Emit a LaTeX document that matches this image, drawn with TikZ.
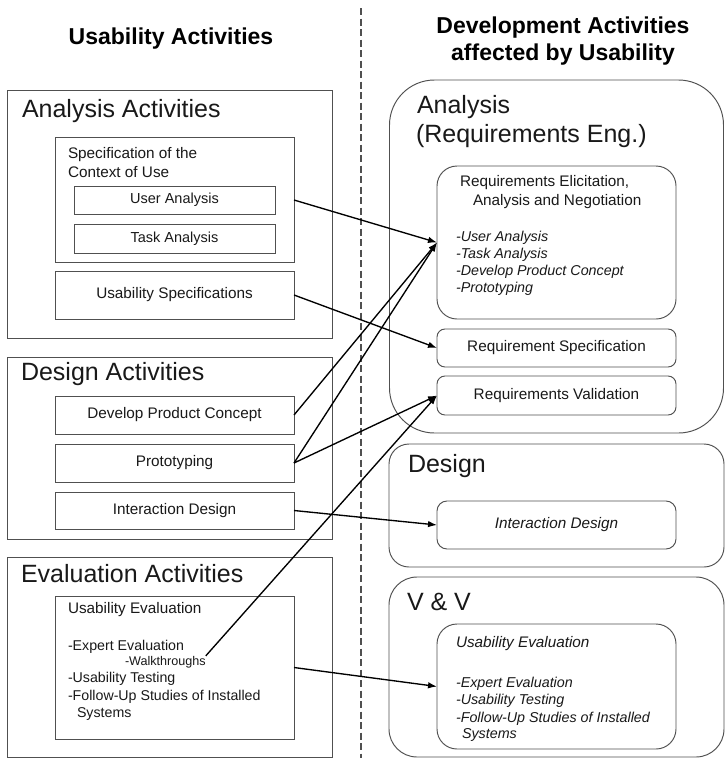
\documentclass[tikz,border=0pt]{standalone}
\usepackage{fontspec}
\setmainfont{Liberation Sans}
\usetikzlibrary{arrows.meta}
\definecolor{edge}{RGB}{80,80,80}
\definecolor{txt}{RGB}{25,25,25}
\newcommand{\fntTitle}{\fontsize{23}{27}\selectfont\bfseries}
\newcommand{\fntBig}{\fontsize{25}{28}\selectfont}
\newcommand{\fntBox}{\fontsize{15.3}{19}\selectfont}
\newcommand{\fntList}{\fontsize{14.2}{17}\selectfont}
\newcommand{\fntItList}{\fontsize{14.3}{17}\selectfont\itshape}
\newcommand{\fntSmall}{\fontsize{12.6}{15}\selectfont}
\begin{document}
\begin{tikzpicture}[x=1pt,y=-1pt,
  frame/.style={draw=edge, line width=0.95pt, inner sep=0pt, outer sep=0pt},
  box/.style={frame, minimum width=239pt, font=\fntBox, text=txt},
  rbox/.style={box, rounded corners=8pt},
  lbl/.style={inner sep=0pt, outer sep=0pt, anchor=base west, text=txt},
  ttl/.style={inner sep=0pt, outer sep=0pt, anchor=base, font=\fntTitle, text=black},
  arr/.style={-{Latex[length=9pt,width=6.5pt]}, line width=1.35pt, black},
  divider/.style={draw=edge, line width=1.1pt, dash pattern=on 7pt off 3.5pt}]
\useasboundingbox[fill=white] (0,0) rectangle (726,758);

% divider
\coordinate (dtop) at (361,8);
\coordinate (dbot) at (361,758);
\draw[divider] (dtop) -- (dbot);

% titles
\node[ttl] (tl) at (171,44) {Usability Activities};
\node[ttl] (tr1) at (563,33) {Development Activities};
\node[ttl] (tr2) at (563,60) {affected by Usability};

% ---------- left: analysis activities ----------
\node[frame, minimum width=325pt, minimum height=248pt] (aa) at (169.5,214) {};
\node[lbl, font=\fntBig] (aat) at (22,117) {Analysis Activities};
\node[box, minimum height=125pt] (spec) at (174.5,199.5) {};
\node[lbl, font=\fntBox] (spec1) at (68,158) {Specification of the};
\node[lbl, font=\fntBox] (spec2) at (68,177) {Context of Use};
\node[box, minimum width=201pt, minimum height=28pt, font=\fontsize{14.5}{17}\selectfont] (ua) at (174.5,200) {User Analysis};
\node[box, minimum width=201pt, minimum height=29pt, font=\fontsize{14.5}{17}\selectfont] (ta) at (174.5,238.5) {Task Analysis};
\node[box, minimum height=48pt] (us) at (174.5,295) {Usability Specifications};

% ---------- left: design activities ----------
\node[frame, minimum width=325pt, minimum height=182pt] (da) at (169.5,448) {};
\node[lbl, font=\fntBig] (dat) at (21,380) {Design Activities};
\node[box, minimum height=38pt] (dpc) at (174.5,415) {Develop Product Concept};
\node[box, minimum height=38pt] (proto) at (174.5,463) {Prototyping};
\node[box, minimum height=37pt] (idl) at (174.5,510.5) {Interaction Design};

% ---------- left: evaluation activities ----------
\node[frame, minimum width=325pt, minimum height=200pt] (ea) at (169.5,657) {};
\node[lbl, font=\fntBig] (eat) at (21,582) {Evaluation Activities};
\node[box, minimum height=143pt] (ue) at (174.5,667.5) {};
\node[lbl, font=\fntBox] (ue1) at (68,613) {Usability Evaluation};
\node[lbl, font=\fntList] (ue2) at (68,650) {-Expert Evaluation};
\node[lbl, font=\fntSmall] (walk) at (125,665) {-Walkthroughs};
\node[lbl, font=\fntList] (ue3) at (68,682) {-Usability Testing};
\node[lbl, font=\fntList] (ue4) at (68,700) {-Follow-Up Studies of Installed};
\node[lbl, font=\fntList] (ue5) at (77,717) {Systems};

% ---------- right: analysis ----------
\node[frame, rounded corners=45pt, minimum width=334pt, minimum height=353pt] (an) at (556.5,256.5) {};
\node[lbl, font=\fntBig] (ant1) at (417,113) {Analysis};
\node[lbl, font=\fntBig] (ant2) at (416,142) {(Requirements Eng.)};
\node[rbox, rounded corners=20pt, minimum height=153pt] (re) at (556.5,242.5) {};
\node[lbl, font=\fntBox] (re1) at (460,186) {Requirements Elicitation,};
\node[lbl, font=\fntBox] (re2) at (473,205) {Analysis and Negotiation};
\node[lbl, font=\fntItList] (re3) at (456,241) {-User Analysis};
\node[lbl, font=\fntItList] (re4) at (456,258) {-Task Analysis};
\node[lbl, font=\fntItList] (re5) at (456,275) {-Develop Product Concept};
\node[lbl, font=\fntItList] (re6) at (456,292) {-Prototyping};
\node[rbox, minimum height=38pt] (rs) at (556.5,348) {Requirement Specification};
\node[rbox, minimum height=39pt] (rv) at (556.5,395.5) {Requirements Validation};

% ---------- right: design ----------
\node[frame, rounded corners=20pt, minimum width=335pt, minimum height=123pt] (de) at (556.5,505.5) {};
\node[lbl, font=\fntBig] (det) at (408,472) {Design};
\node[rbox, rounded corners=10pt, minimum height=48pt, font=\fntBox\itshape] (idr) at (556.5,525) {Interaction Design};

% ---------- right: V & V ----------
\node[frame, rounded corners=28pt, minimum width=335pt, minimum height=180pt] (vv) at (556.5,667) {};
\node[lbl, font=\fntBig] (vvt) at (407,610) {V \& V};
\node[rbox, rounded corners=20pt, minimum height=125pt] (uer) at (556.5,686.5) {};
\node[lbl, font=\fntBox\itshape] (uer1) at (456,647) {Usability Evaluation};
\node[lbl, font=\fntItList] (uer2) at (456,687) {-Expert Evaluation};
\node[lbl, font=\fntItList] (uer3) at (456,704) {-Usability Testing};
\node[lbl, font=\fntItList] (uer4) at (456,722) {-Follow-Up Studies of Installed};
\node[lbl, font=\fntItList] (uer5) at (462,738) {Systems};

% ---------- connectors ----------
\draw[arr] (spec.east |- ua.east) -- (re.west);
\draw[arr] (us.east) -- (rs.west);
\draw[arr] (dpc.east) -- (re.west);
\draw[arr] (proto.east) -- (re.west);
\draw[arr] (proto.east) -- (rv.west);
\draw[arr] (walk.north east) -- (rv.west);
\draw[arr] (idl.east) -- (idr.west);
\draw[arr] (ue.east) -- (uer.west);
\end{tikzpicture}
\end{document}
